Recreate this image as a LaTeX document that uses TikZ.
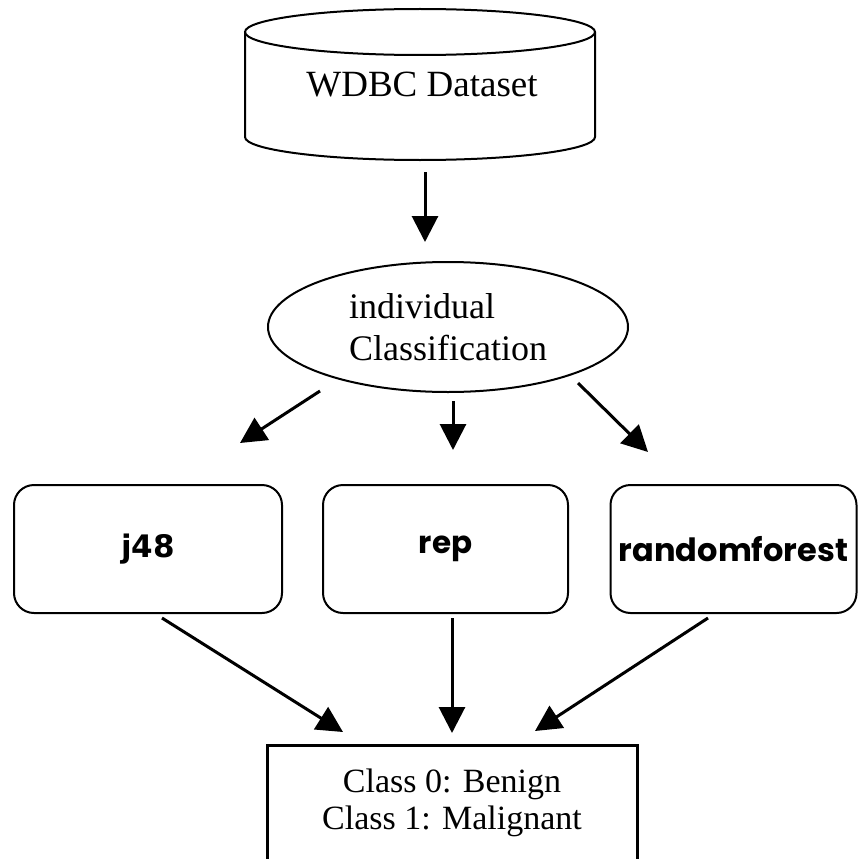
\documentclass[tikz,border=0pt]{standalone}
\usepackage{fontspec}
\setmainfont{Liberation Serif}
\newfontfamily\boldsans{DejaVu Sans}
\newfontfamily\roundsans{Poppins}
\usetikzlibrary{shapes,arrows.meta,positioning}

\begin{document}
\begin{tikzpicture}[x=1pt,y=-1pt,
	arr/.style={line width=3pt,-{Triangle[length=26pt,width=26pt]}},
	algo/.style={draw,line width=2pt,rounded corners=20pt,minimum height=128pt}]
	%
	\useasboundingbox (0,0) rectangle (858,859);
	
	% dataset
	\draw[line width=2pt] (420,32) ellipse (175 and 23);
	\draw[line width=2pt] (245,32) -- (245,137) arc[start angle=180,end angle=0,x radius=175,y radius=23] -- (595,32);
	\node[font=\fontsize{37}{42}\selectfont] (db) at (422,85) {WDBC Dataset};
	\coordinate (dbbot) at (425,160);
	
	% classification
	\node[draw,ellipse,line width=2pt,minimum width=360pt,minimum height=130pt,align=left,
	font=\fontsize{36}{42}\selectfont] (cls) at (448,327) {individual\\Classification};
	
	% algorithms
	\node[algo,minimum width=268pt,font=\boldsans\bfseries\fontsize{31}{36}\selectfont] (j48) at (148,549) {j48};
	\node[algo,minimum width=245pt,font=\roundsans\bfseries\fontsize{31}{36}\selectfont] (rep) at (445.5,549) {rep};
	\node[algo,minimum width=246pt,inner sep=0pt,font=\roundsans\bfseries\fontsize{32}{36}\selectfont] (rf) at (733.5,549) {randomforest};
	
	% result
	\node[draw,line width=3pt,minimum width=370pt,minimum height=116pt,align=center,
	font=\fontsize{34}{37}\selectfont] (res) at (452,803) {Class 0: Benign\\Class 1: Malignant};
	
	\coordinate (e0) at (425,242);
	\coordinate (e1) at (240,443);
	\coordinate (e2) at (453,450);
	\coordinate (e3) at (648,452);
	\coordinate (f1) at (343,732);
	\coordinate (f2) at (452,733);
	\coordinate (f3) at (535,731);
	
	\draw[arr] ([yshift=-12pt]dbbot) -- (e0);
	\draw[arr] (320,391) -- (e1);
	\draw[arr] ([xshift=5pt,yshift=-8pt]cls.south) -- (e2);
	\draw[arr] (578,383) -- (e3);
	\draw[arr] ([xshift=14pt,yshift=-4pt]j48.south) -- (f1);
	\draw[arr] ([xshift=6.5pt,yshift=-4pt]rep.south) -- (f2);
	\draw[arr] ([xshift=-25.5pt,yshift=-4pt]rf.south) -- (f3);
\end{tikzpicture}
\end{document}
